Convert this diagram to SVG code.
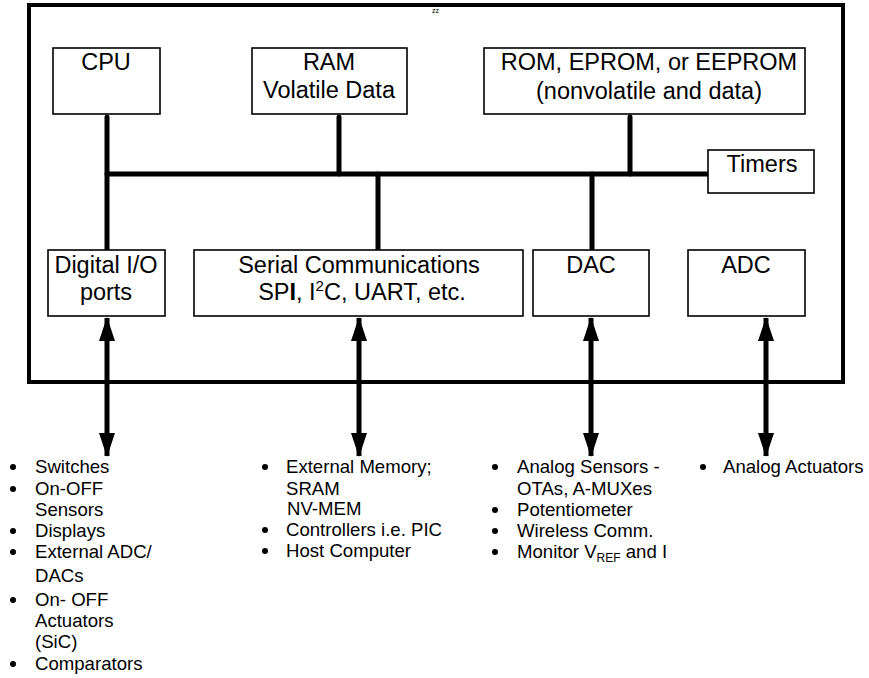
<svg xmlns="http://www.w3.org/2000/svg" width="869" height="678" viewBox="0 0 869 678">
<style>
text{font-family:"Liberation Sans",Arial,sans-serif;fill:#000}
.box{fill:#fff;stroke:#000;stroke-width:1.6}
.lbl{font-size:23.5px;text-anchor:middle}
.li{font-size:18.6px}
.bus{stroke:#000;stroke-width:5;fill:none;stroke-linecap:round}
.arr{stroke:#000;stroke-width:5;fill:none}
</style>
<defs>
<marker id="ah" viewBox="0 0 24 16" refX="23" refY="8" markerWidth="24" markerHeight="16" markerUnits="userSpaceOnUse" orient="auto-start-reverse">
<path d="M0,0 L24,8 L0,16 Z" fill="#000"/>
</marker>
</defs>
<rect x="29" y="5" width="814" height="377" fill="#fff" stroke="#000" stroke-width="4"/>
<text x="432" y="13" style="font-size:7px">zz</text>
<g id="connectors">
<path class="bus" d="M107,117 V250"/>
<path class="bus" d="M107,174 H708"/>
<path class="bus" d="M339,117 V174"/>
<path class="bus" d="M630,117 V174"/>
<path class="bus" d="M378,174 V250"/>
<path class="bus" d="M592,174 V250"/>
<path class="arr" d="M107,318 V456" marker-start="url(#ah)" marker-end="url(#ah)"/>
<path class="arr" d="M359,318 V456" marker-start="url(#ah)" marker-end="url(#ah)"/>
<path class="arr" d="M591,318 V456" marker-start="url(#ah)" marker-end="url(#ah)"/>
<path class="arr" d="M766,318 V456" marker-start="url(#ah)" marker-end="url(#ah)"/>
</g>
<g id="cpu"><rect class="box" x="53" y="48" width="107" height="66"/><text class="lbl" x="106" y="70">CPU</text></g>
<g id="ram"><rect class="box" x="252" y="48" width="155" height="66"/><text class="lbl" x="329" y="70">RAM</text><text class="lbl" x="329" y="98">Volatile Data</text></g>
<g id="rom"><rect class="box" x="484" y="48" width="321" height="66"/><text class="lbl" x="649" y="70">ROM, EPROM, or EEPROM</text><text class="lbl" x="649" y="99">(nonvolatile and data)</text></g>
<g id="timers"><rect class="box" x="708" y="150" width="106" height="43"/><text class="lbl" x="762" y="172">Timers</text></g>
<g id="digital-io"><rect class="box" x="48" y="250" width="117" height="66"/><text class="lbl" x="106" y="273">Digital I/O</text><text class="lbl" x="106" y="300">ports</text></g>
<g id="serial"><rect class="box" x="194" y="250" width="329" height="66"/><text class="lbl" x="359" y="273">Serial Communications</text><text class="lbl" x="362" y="300">SP<tspan font-weight="bold">I</tspan>, I<tspan font-size="15px" dy="-9">2</tspan><tspan dy="9">C, UART, etc.</tspan></text></g>
<g id="dac"><rect class="box" x="533" y="250" width="116" height="66"/><text class="lbl" x="591" y="273">DAC</text></g>
<g id="adc"><rect class="box" x="688" y="250" width="117" height="66"/><text class="lbl" x="746" y="273">ADC</text></g>
<g id="list-digital">
<circle cx="13" cy="467" r="3"/><text class="li" x="35" y="473">Switches</text>
<circle cx="13" cy="489" r="3"/><text class="li" x="35" y="495">On-OFF</text>
<text class="li" x="35" y="516">Sensors</text>
<circle cx="13" cy="531" r="3"/><text class="li" x="35" y="537">Displays</text>
<circle cx="13" cy="552" r="3"/><text class="li" x="35" y="558">External ADC/</text>
<text class="li" x="35" y="582">DACs</text>
<circle cx="13" cy="600" r="3"/><text class="li" x="35" y="606">On- OFF</text>
<text class="li" x="35" y="627">Actuators</text>
<text class="li" x="35" y="648">(SiC)</text>
<circle cx="13" cy="664" r="3"/><text class="li" x="35" y="670">Comparators</text>
</g>
<g id="list-serial">
<circle cx="265" cy="467" r="3"/><text class="li" x="286" y="473">External Memory;</text>
<text class="li" x="286" y="495">SRAM</text>
<text class="li" x="287" y="515">NV-MEM</text>
<circle cx="265" cy="530" r="3"/><text class="li" x="286" y="536">Controllers i.e. PIC</text>
<circle cx="265" cy="551" r="3"/><text class="li" x="286" y="557">Host Computer</text>
</g>
<g id="list-dac">
<circle cx="495" cy="467" r="3"/><text class="li" x="517" y="473">Analog Sensors -</text>
<text class="li" x="517" y="495">OTAs, A-MUXes</text>
<circle cx="495" cy="510" r="3"/><text class="li" x="517" y="516">Potentiometer</text>
<circle cx="495" cy="531" r="3"/><text class="li" x="517" y="537">Wireless Comm.</text>
<circle cx="495" cy="552" r="3"/><text class="li" x="517" y="558">Monitor V<tspan font-size="12px" dy="4">REF</tspan><tspan dy="-4"> and I</tspan></text>
</g>
<g id="list-adc">
<circle cx="703" cy="467" r="3"/><text class="li" x="723" y="473">Analog Actuators</text>
</g>
</svg>
